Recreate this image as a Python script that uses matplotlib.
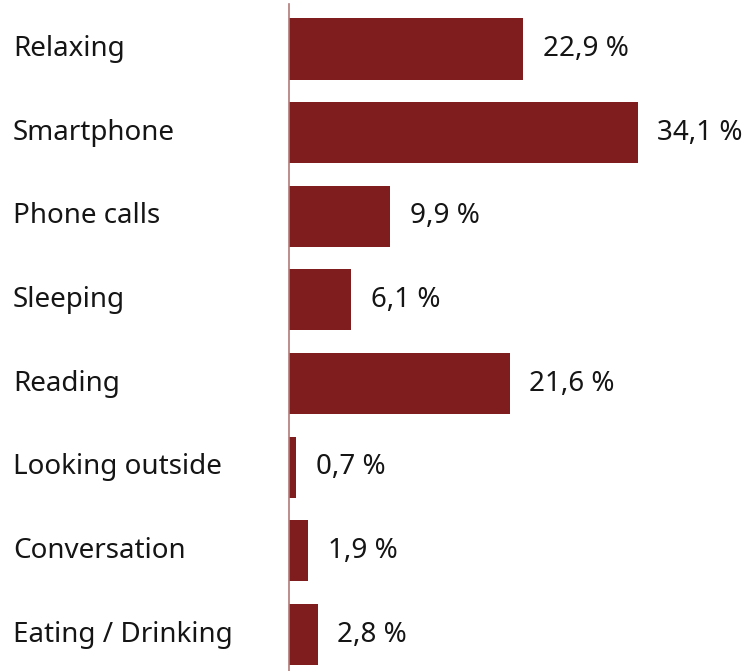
import matplotlib.pyplot as plt
from matplotlib.transforms import blended_transform_factory

# ── DATA ─────────────────────────────────────────────
categories = ["Relaxing", "Smartphone", "Phone calls", "Sleeping",
              "Reading", "Looking outside", "Conversation", "Eating / Drinking"]
values = [22.9, 34.1, 9.9, 6.1, 21.6, 0.7, 1.9, 2.8]
value_labels = ["22,9 %", "34,1 %", "9,9 %", "6,1 %",
                "21,6 %", "0,7 %", "1,9 %", "2,8 %"]

BAR_COLOR = "#7f1d1e"
AXIS_COLOR = "#b07a7a"
FONT = "Noto Sans"

W, H = 748, 671
fig = plt.figure(figsize=(W / 100, H / 100), dpi=100, facecolor="white")
ax = fig.add_axes([289 / W, 0, 1 - 289 / W, 1 - 4 / H])

ypos = list(range(len(categories)))
ax.barh(ypos, values, height=0.73, color=BAR_COLOR, zorder=2)

ax.set_xlim(0, 44.9)
ax.set_ylim(7.436, -0.538)

for s in ["top", "right", "bottom"]:
    ax.spines[s].set_visible(False)
ax.spines["left"].set_color(AXIS_COLOR)
ax.spines["left"].set_linewidth(1.2)
ax.set_xticks([])
ax.set_yticks([])

# value labels
for y, v, lab in zip(ypos, values, value_labels):
    ax.annotate(lab, (v, y), xytext=(14, 0), textcoords="offset points",
                ha="left", va="center", fontsize=20, family=FONT,
                color="#151515")

# category labels
trans = blended_transform_factory(fig.transFigure, ax.transData)
for y, cat in zip(ypos, categories):
    ax.text(13 / W, y, cat, transform=trans, ha="left", va="center",
            fontsize=20, family=FONT, color="#151515")

fig.savefig("out.png", dpi=100, facecolor="white")
